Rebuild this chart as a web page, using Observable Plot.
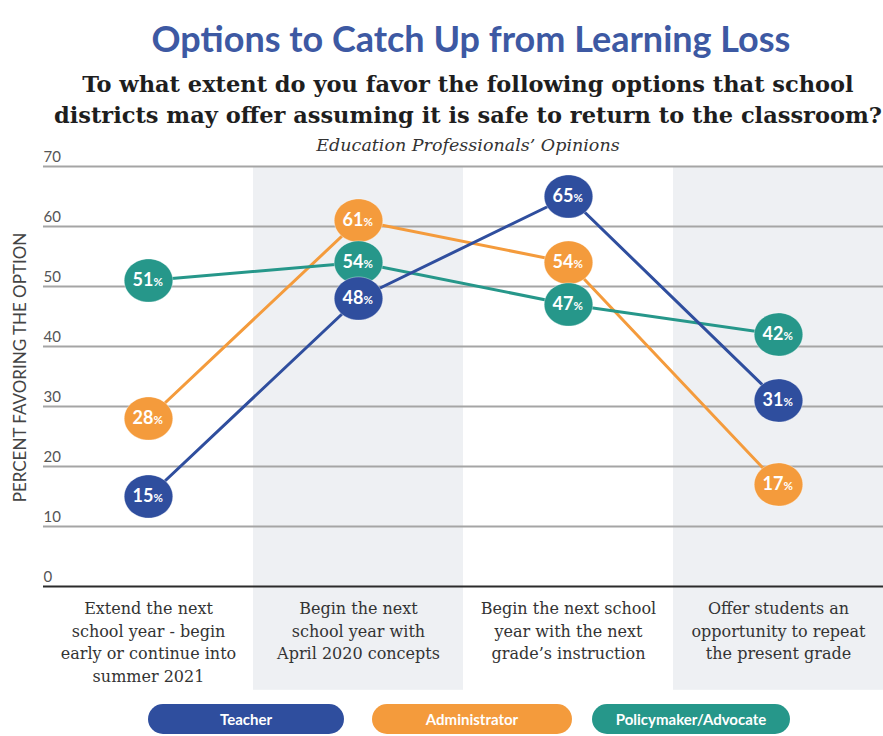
<!DOCTYPE html>
<html>
<head>
<meta charset="utf-8">
<script src="https://cdn.jsdelivr.net/npm/d3@7"></script>
<script src="https://cdn.jsdelivr.net/npm/@observablehq/plot@0.6"></script>
<style>
  html, body { margin: 0; padding: 0; background: #fff; }
  #page { position: relative; width: 883px; height: 736px; overflow: hidden; background: #fff; }
  #chart { position: absolute; left: 0; top: 140px; }
  #chart svg { background: transparent !important; }
  .title { position: absolute; left: 0; width: 942px; top: 18px; text-align: center;
    font-family: Lato, sans-serif; font-weight: 700; font-size: 36px; line-height: 40px; color: #3d59a3; }
  .sub { position: absolute; left: 0; width: 936px; top: 69px; text-align: center;
    font-family: "DejaVu Serif", serif; font-weight: 700; font-size: 22.5px; line-height: 31px; color: #1e1e1e; }
  .sub2 { position: absolute; left: 0; width: 936px; top: 135px; text-align: center;
    font-family: "DejaVu Serif", serif; font-style: italic; font-size: 17.5px; line-height: 20px; color: #333; }
  .pill { position: absolute; top: 704px; height: 30px; border-radius: 15px; color: #fff;
    font-family: Lato, sans-serif; font-weight: 700; font-size: 15px; line-height: 30px; text-align: center; }
</style>
</head>
<body>
<div id="page">
  <div id="chart"></div>
  <div class="title">Options to Catch Up from Learning Loss</div>
  <div class="sub">To what extent do you favor the following options that school<br>districts may offer assuming it is safe to return to the classroom?</div>
  <div class="sub2">Education Professionals’ Opinions</div>
  <div id="legend"></div>
</div>
<script>
// ---- data ----
const categories = [
  "Extend the next\nschool year - begin\nearly or continue into\nsummer 2021",
  "Begin the next\nschool year with\nApril 2020 concepts",
  "Begin the next school\nyear with the next\ngrade’s instruction",
  "Offer students an\nopportunity to repeat\nthe present grade"
];
const seriesNames = ["Teacher", "Administrator", "Policymaker/Advocate"];
const teacher = [15, 48, 65, 31];
const administrator = [28, 61, 54, 17];
const policymaker = [51, 54, 47, 42];
const yTicks = [0, 10, 20, 30, 40, 50, 60, 70];
const yLabel = "PERCENT FAVORING THE OPTION";
const shadedCategories = [categories[1], categories[3]];

const colors = {"Teacher": "#2f4e9e", "Administrator": "#f49b3c", "Policymaker/Advocate": "#26978a"};

const valuesBySeries = {"Teacher": teacher, "Administrator": administrator, "Policymaker/Advocate": policymaker};
const rows = [];
for (const s of seriesNames) {
  valuesBySeries[s].forEach((v, i) => rows.push({series: s, category: categories[i], value: v}));
}
const drawOrder = ["Administrator", "Policymaker/Advocate", "Teacher"];
const ordered = drawOrder.flatMap(s => rows.filter(r => r.series === s));

const ellipse = {
  draw(ctx, size) {
    const r = Math.sqrt(size / Math.PI);
    const rx = r * 1.08, ry = r * 0.96, k = 0.5523;
    ctx.moveTo(rx, 0);
    ctx.bezierCurveTo(rx, ry * k, rx * k, ry, 0, ry);
    ctx.bezierCurveTo(-rx * k, ry, -rx, ry * k, -rx, 0);
    ctx.bezierCurveTo(-rx, -ry * k, -rx * k, -ry, 0, -ry);
    ctx.bezierCurveTo(rx * k, -ry, rx, -ry * k, rx, 0);
    ctx.closePath();
  }
};

const chart = Plot.plot({
  width: 883,
  height: 555,
  marginTop: 26,
  marginBottom: 109,
  marginLeft: 43,
  marginRight: 0,
  style: {background: "transparent", overflow: "visible"},
  x: {type: "band", domain: categories, padding: 0, axis: null},
  y: {domain: [0, 70], axis: null},
  color: {domain: seriesNames, range: seriesNames.map(s => colors[s])},
  marks: [
    Plot.barY(shadedCategories, {x: d => d, y1: -17.3, y2: 70, fill: "#eef0f3", inset: 0, clip: false}),
    Plot.ruleY(yTicks.filter(t => t > 0), {stroke: "#a5a5a5", strokeWidth: 2}),
    Plot.ruleY([0], {stroke: "#2b2b2b", strokeWidth: 2}),
    Plot.text(yTicks, {y: d => d, text: d => String(d), frameAnchor: "left", textAnchor: "start", dy: -9, fill: "#555", fontSize: 15, fontFamily: "Lato, sans-serif"}),
    Plot.text([yLabel], {y: 36.5, text: d => d, frameAnchor: "left", textAnchor: "middle", dx: -23, rotate: -90, fill: "#444", fontSize: 17, fontFamily: "Lato, sans-serif", style: "letter-spacing:2.6px"}),
    Plot.text(categories, {x: d => d, y: -2, text: d => d, lineAnchor: "top", lineHeight: 1.4, fill: "#333", fontSize: 16, fontFamily: "DejaVu Serif, serif"}),
    Plot.line(ordered, {x: "category", y: "value", z: "series", stroke: "series", strokeWidth: 3}),
    Plot.dot(ordered, {x: "category", y: "value", fill: "series", r: 22.5, symbol: ellipse, stroke: "#ffffff", strokeOpacity: 0.35, strokeWidth: 1}),
    Plot.text(ordered, {x: "category", y: "value", text: d => String(d.value), textAnchor: "end", dx: 5, fill: "#fff", fontWeight: 700, fontSize: 18, fontFamily: "Lato, sans-serif"}),
    Plot.text(ordered, {x: "category", y: "value", text: d => "%", textAnchor: "start", dx: 5, dy: 2, fill: "#fff", fontWeight: 700, fontSize: 11.5, fontFamily: "Lato, sans-serif"})
  ]
});
document.getElementById("chart").appendChild(chart);

const legendLefts = [148, 372, 592];
const legendWidths = [196, 200, 198];
const legend = document.getElementById("legend");
seriesNames.forEach((s, i) => {
  const p = document.createElement("div");
  p.className = "pill";
  p.style.left = legendLefts[i] + "px";
  p.style.width = legendWidths[i] + "px";
  p.style.background = colors[s];
  p.textContent = s;
  legend.appendChild(p);
});
</script>
</body>
</html>
